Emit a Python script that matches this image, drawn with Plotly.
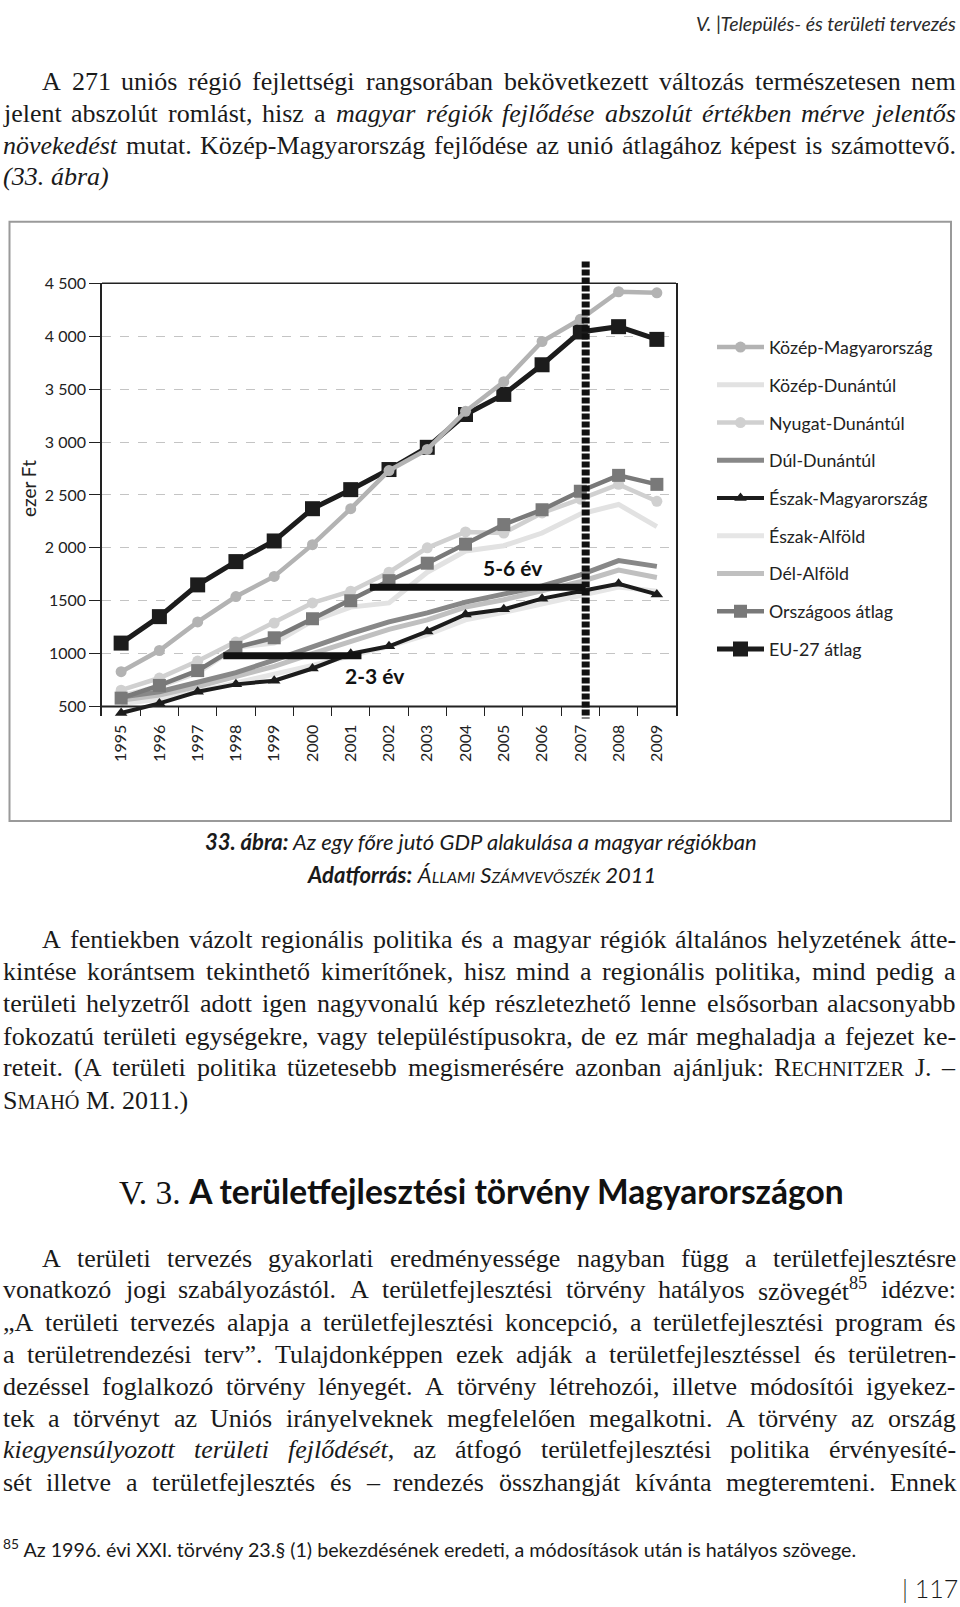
import re
import unicodedata
import plotly.graph_objects as go

# ---------------- data ----------------
years = [str(y) for y in range(1995, 2010)]
kozep_magyarorszag = [830, 1030, 1300, 1540, 1730, 2030, 2370, 2730, 2930, 3290, 3570, 3950, 4160, 4420, 4410]
kozep_dunantul = [600, 690, 820, 1060, 1100, 1310, 1440, 1480, 1770, 1970, 2020, 2140, 2320, 2410, 2200]
nyugat_dunantul = [655, 770, 930, 1110, 1290, 1480, 1590, 1770, 2000, 2150, 2140, 2330, 2460, 2600, 2440]
del_dunantul = [590, 640, 730, 820, 940, 1070, 1190, 1300, 1385, 1487, 1560, 1640, 1745, 1880, 1825]
eszak_magyarorszag = [440, 530, 640, 710, 745, 860, 1000, 1070, 1210, 1370, 1420, 1520, 1590, 1660, 1560]
eszak_alfold = [530, 570, 640, 720, 800, 890, 980, 1070, 1180, 1320, 1390, 1470, 1560, 1630, 1590]
del_alfold = [560, 610, 690, 780, 880, 1000, 1120, 1230, 1320, 1440, 1510, 1590, 1680, 1790, 1720]
orszagos_atlag = [580, 700, 840, 1060, 1150, 1330, 1500, 1690, 1855, 2035, 2220, 2360, 2535, 2685, 2600]
eu27_atlag = [1100, 1350, 1650, 1870, 2065, 2370, 2550, 2740, 2950, 3260, 3450, 3730, 4040, 4090, 3970]

ytick_vals = [500, 1000, 1500, 2000, 2500, 3000, 3500, 4000, 4500]
ytick_text = ["500", "1000", "1500", "2 000", "2 500", "3 000", "3 500", "4 000", "4 500"]

gap_labels = ["2-3 év", "5-6 év"]
gap_level = [980, 1627]
gap_from_year = [1997.67, 2001.5]
gap_to_year = [2001.28, 2007.14]
marker_year = 2007.14

W, H = 960, 1607
SANS = "Lato"
SERIF = "Liberation Serif"


def px(x):
    return x / W


def py(y):
    return 1 - y / H


fig = go.Figure()

series = [
    # name, values, color, width, marker symbol, marker size, legend rank
    ("Észak-Alföld", eszak_alfold, "#e6e6e6", 5, None, 0, 6),
    ("Közép-Dunántúl", kozep_dunantul, "#e2e2e2", 5, None, 0, 2),
    ("Dél-Alföld", del_alfold, "#c0c0c0", 5, None, 0, 7),
    ("Dúl-Dunántúl", del_dunantul, "#888888", 5, None, 0, 4),
    ("Nyugat-Dunántúl", nyugat_dunantul, "#d0d0d0", 4.5, "circle", 11, 3),
    ("Országoos átlag", orszagos_atlag, "#797979", 4.5, "square", 13, 8),
    ("Észak-Magyarország", eszak_magyarorszag, "#1c1c1c", 4, "triangle-up", 11, 5),
    ("EU-27 átlag", eu27_atlag, "#1c1c1c", 5, "square", 15, 9),
    ("Közép-Magyarország", kozep_magyarorszag, "#b3b3b3", 4.5, "circle", 11, 1),
]

for name, vals, col, lw, sym, ms, rank in series:
    kw = dict(mode="lines")
    if sym:
        kw = dict(mode="lines+markers",
                  marker=dict(symbol=sym, size=ms, color=col, line=dict(width=0)))
    fig.add_trace(go.Scatter(
        x=years, y=vals, name=name, line=dict(color=col, width=lw),
        legendrank=rank, legendgroup=name, cliponaxis=False, **kw))

fig.update_layout(
    width=W, height=H, autosize=False,
    margin=dict(l=0, r=0, t=0, b=0),
    paper_bgcolor="white", plot_bgcolor="white",
    font=dict(family=SANS, color="#222222"),
    showlegend=True,
    legend=dict(x=px(712), y=py(321), xanchor="left", yanchor="top",
                font=dict(family=SANS, size=17.8, color="#222"),
                itemwidth=47, tracegroupgap=11.6, bgcolor="rgba(0,0,0,0)",
                traceorder="grouped"),
    xaxis=dict(domain=[px(102), px(676)], range=[-0.5, 14.5], type="category",
               showline=False, showgrid=False, zeroline=False,
               ticks="inside", ticklen=9, tickwidth=1.2, tickcolor="#222",
               tickson="boundaries", tickangle=-90, ticklabelstandoff=5,
               tickfont=dict(family=SANS, size=16, color="#222")),
    yaxis=dict(domain=[py(710), py(275)], range=[415, 4500],
               showline=True, linecolor="#222", linewidth=1.5, mirror=True,
               showgrid=True, gridcolor="#c4c4c4", gridwidth=1.2, griddash="dash",
               zeroline=False, ticks="outside", ticklen=11, tickcolor="#222",
               tickvals=ytick_vals, ticktext=ytick_text,
               tickfont=dict(family=SANS, size=16, color="#222")),
)

shapes = []
# outer frame of the figure box
shapes.append(dict(type="rect", xref="paper", yref="paper",
                   x0=px(9.5), x1=px(951), y0=py(816), y1=py(213),
                   line=dict(color="#9a9a9a", width=2), fillcolor="rgba(0,0,0,0)"))
# top frame line and base line at 500
shapes.append(dict(type="line", xref="x domain", yref="y domain", x0=0, x1=1, y0=1, y1=1,
                   line=dict(color="#222", width=1.5)))
shapes.append(dict(type="line", xref="x domain", yref="y", x0=0, x1=1, y0=500, y1=500,
                   line=dict(color="#222", width=2)))
# horizontal gap bars
for lvl, a, b in zip(gap_level, gap_from_year, gap_to_year):
    shapes.append(dict(type="line", xref="x", yref="y", x0=a - 1995, x1=b - 1995,
                       y0=lvl, y1=lvl, line=dict(color="#111", width=7), layer="above"))
# dotted vertical line at 2007
shapes.append(dict(type="line", xref="x", yref="paper", x0=marker_year - 1995,
                   x1=marker_year - 1995, y0=py(253), y1=py(713),
                   line=dict(color="#111", width=8, dash="6px,2px"), layer="above"))
fig.update_layout(shapes=shapes)

ann = []
ann.append(dict(x=10.23, y=1815, xref="x", yref="y", text="<b>" + gap_labels[1] + "</b>", showarrow=False,
                font=dict(family=SANS, size=21, color="#111")))
ann.append(dict(x=6.63, y=790, xref="x", yref="y", text="<b>" + gap_labels[0] + "</b>", showarrow=False,
                font=dict(family=SANS, size=21, color="#111")))
ann.append(dict(x=px(28), y=py(482), xref="paper", yref="paper", text="ezer Ft", textangle=-90,
                xanchor="center", yanchor="middle",
                showarrow=False, font=dict(family=SANS, size=19, color="#222")))


def add_text(x, y, text, size, family=SANS, anchor="left", color="#1a1a1a", weight=None):
    f = dict(family=family, size=size, color=color)
    if weight:
        f["weight"] = weight
    ann.append(dict(x=px(x), y=py(y), xref="paper", yref="paper", text=text, showarrow=False,
                    xanchor=anchor, yanchor="middle", font=f, borderpad=0, borderwidth=0))


# ---------- justified serif paragraphs ----------
W_R = {' ': 250, '(': 333, ')': 333, ',': 250, '-': 333, '.': 250, ':': 278, ';': 278,
       '§': 500, '–': 500, '„': 444, '”': 444,
       'A': 722, 'B': 667, 'C': 667, 'D': 722, 'E': 611, 'F': 556, 'G': 722, 'H': 722, 'I': 333,
       'J': 389, 'K': 722, 'L': 611, 'M': 889, 'N': 722, 'O': 722, 'P': 556, 'Q': 722, 'R': 667,
       'S': 556, 'T': 611, 'U': 722, 'V': 722, 'W': 944, 'X': 722, 'Y': 722, 'Z': 611,
       'a': 444, 'b': 500, 'c': 444, 'd': 500, 'e': 444, 'f': 333, 'g': 500, 'h': 500, 'i': 278,
       'j': 278, 'k': 500, 'l': 278, 'm': 778, 'n': 500, 'o': 500, 'p': 500, 'q': 500, 'r': 333,
       's': 389, 't': 278, 'u': 500, 'v': 500, 'w': 722, 'x': 500, 'y': 500, 'z': 444}
W_I = dict(W_R)
W_I.update({'a': 500, 'f': 278, 'k': 444, 'm': 722, 'r': 389, 'v': 444, 'w': 667, 'x': 444,
            'y': 444, 'z': 389, ':': 333, 'A': 611, 'M': 833, 'K': 667})


def cw(ch, italic):
    t = W_I if italic else W_R
    if ch in t:
        return t[ch]
    if ch.isdigit():
        return 500
    b = unicodedata.normalize("NFD", ch)[0]
    return t.get(b, 500)


def parse(line):
    chars, style = [], "r"
    for tok in re.split(r"(</?i>|</?sc>|</?sup>)", line):
        if tok == "<i>":
            style = "i"
        elif tok == "<sc>":
            style = "sc"
        elif tok == "<sup>":
            style = "sup"
        elif tok in ("</i>", "</sc>", "</sup>"):
            style = "r"
        else:
            chars += [(c, style) for c in tok]
    words, cur = [], []
    for c, st in chars:
        if c == " " and st in ("r", "i"):
            if cur:
                words.append(cur)
                cur = []
        else:
            cur.append((c, st))
    if cur:
        words.append(cur)
    return words


def wwidth(word, fs):
    w = 0
    for c, st in word:
        if st == "sc":
            w += cw(c, False) * 0.78 * fs / 1000
        elif st == "sup":
            w += cw(c, False) * 0.7 * fs / 1000
        else:
            w += cw(c, st == "i") * fs / 1000
    return w


def render(word, fs):
    runs = []
    for c, st in word:
        if runs and runs[-1][1] == st:
            runs[-1][0] += c
        else:
            runs.append([c, st])
    out = ""
    for t, st in runs:
        if st == "i":
            out += "<i>" + t + "</i>"
        elif st == "sc":
            out += "<span style='font-size:%.1fpx'>%s</span>" % (0.78 * fs, t)
        elif st == "sup":
            out += "<sup>" + t + "</sup>"
        else:
            out += t
    return out


BODY_FS = 26
LEFT, RIGHT, INDENT = 3, 956, 39


def add_para(lines, ys, last_justified=False):
    for k, (line, y) in enumerate(zip(lines, ys)):
        words = parse(line)
        x0 = LEFT + (INDENT if k == 0 else 0)
        widths = [wwidth(w, BODY_FS) for w in words]
        justify = (k < len(lines) - 1) or last_justified
        if justify and len(words) > 1:
            gap = (RIGHT - x0 - sum(widths)) / (len(words) - 1)
        else:
            gap = 0.25 * BODY_FS
        x = x0
        for i, (w, wd) in enumerate(zip(words, widths)):
            if justify and i == len(words) - 1 and len(words) > 1:
                add_text(RIGHT, y, render(w, BODY_FS), BODY_FS, SERIF, "right")
            else:
                add_text(x, y, render(w, BODY_FS), BODY_FS, SERIF, "left")
            x += wd + gap


para1 = [
    "A 271 uniós régió fejlettségi rangsorában bekövetkezett változás természetesen nem",
    "jelent abszolút romlást, hisz a <i>magyar régiók fejlődése abszolút értékben mérve jelentős</i>",
    "<i>növekedést</i> mutat. Közép-Magyarország fejlődése az unió átlagához képest is számottevő.",
    "<i>(33. ábra)</i>",
]
para2 = [
    "A fentiekben vázolt regionális politika és a magyar régiók általános helyzetének átte-",
    "kintése korántsem tekinthető kimerítőnek, hisz mind a regionális politika, mind pedig a",
    "területi helyzetről adott igen nagyvonalú kép részletezhető lenne elsősorban alacsonyabb",
    "fokozatú területi egységekre, vagy településtípusokra, de ez már meghaladja a fejezet ke-",
    "reteit. (A területi politika tüzetesebb megismerésére azonban ajánljuk: R<sc>ECHNITZER</sc> J. –",
    "S<sc>MAHÓ</sc> M. 2011.)",
]
para3 = [
    "A területi tervezés gyakorlati eredményessége nagyban függ a területfejlesztésre",
    "vonatkozó jogi szabályozástól. A területfejlesztési törvény hatályos szövegét<sup>85</sup> idézve:",
    "„A területi tervezés alapja a területfejlesztési koncepció, a területfejlesztési program és",
    "a területrendezési terv”. Tulajdonképpen ezek adják a területfejlesztéssel és területren-",
    "dezéssel foglalkozó törvény lényegét. A törvény létrehozói, illetve módosítói igyekez-",
    "tek a törvényt az Uniós irányelveknek megfelelően megalkotni. A törvény az ország",
    "<i>kiegyensúlyozott területi fejlődését</i>, az átfogó területfejlesztési politika érvényesíté-",
    "sét illetve a területfejlesztés és – rendezés összhangját kívánta megteremteni. Ennek",
]

add_para(para1, [72, 104, 136, 168])
add_para(para2, [935.5, 967.5, 1000, 1032.5, 1064.5, 1097])
add_para(para3, [1256, 1288, 1320.5, 1352.5, 1385, 1417, 1449, 1481.5], last_justified=True)

# header
add_text(956, 14, "<i>V. |Település- és területi tervezés</i>", 19.5, SANS, "right", "#2a2a2a")
# caption
add_text(481, 837, "<b><i>33. ábra:</i></b><i> Az egy főre jutó GDP alakulása a magyar régiókban</i>",
         22, SANS, "center", "#1a1a1a")
add_text(481, 870, "<b><i>Adatforrás:</i></b> <i>Á<span style='font-size:16px'>LLAMI</span> "
         "S<span style='font-size:16px'>ZÁMVEVŐSZÉK</span> 2011</i>", 22, SANS, "center", "#1a1a1a")
# section heading
add_text(481, 1188, "<span style='font-family:Liberation Serif'>V. 3. </span><b>A területfejlesztési törvény Magyarországon</b>",
         33.5, SANS, "center", "#111")
# footnote
add_text(3, 1548, "<sup>85</sup> Az 1996. évi XXI. törvény 23.§ (1) bekezdésének eredeti, a módosítások után is hatályos szövege.",
         19.7, SANS, "left", "#1a1a1a")
# page number
add_text(958, 1588, "| 117", 25, SANS, "right", "#1a1a1a", 300)

fig.update_layout(annotations=ann)

fig.write_html("out.html", config={"displayModeBar": False})
